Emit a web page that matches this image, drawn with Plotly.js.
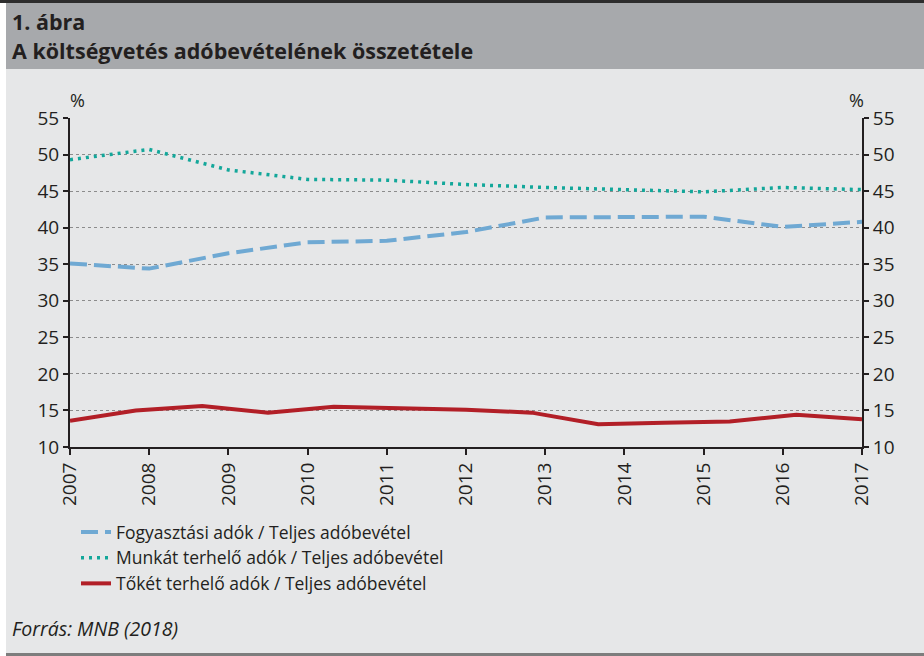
<!DOCTYPE html>
<html>
<head>
<meta charset="utf-8">
<script src="https://cdn.plot.ly/plotly-3.0.1.min.js"></script>
<style>
html,body{margin:0;padding:0;background:#e6e7e8;}
#chart{width:924px;height:656px;}
</style>
</head>
<body>
<div id="chart"></div>
<script>
// ---- data ----
const years = [2007, 2008, 2009, 2010, 2011, 2012, 2013, 2014, 2015, 2016, 2017];
const yearLabels = ['2007','2008','2009','2010','2011','2012','2013','2014','2015','2016','2017'];
const consumptionTax = [35.1, 34.4, 36.5, 38.0, 38.2, 39.4, 41.4, 41.4, 41.5, 40.1, 40.8];
const labourTax = [49.3, 50.7, 47.9, 46.6, 46.5, 45.9, 45.5, 45.2, 44.9, 45.5, 45.2];
const capitalX = [2007, 2007.83, 2008.67, 2009.5, 2010.33, 2011.17, 2012, 2012.83, 2013.67, 2014.5, 2015.33, 2016.17, 2017];
const capitalTax = [13.6, 15.0, 15.6, 14.7, 15.5, 15.3, 15.1, 14.7, 13.1, 13.3, 13.5, 14.4, 13.8];
const seriesNames = [
  'Fogyasztási adók / Teljes adóbevétel',
  'Munkát terhelő adók / Teljes adóbevétel',
  'Tőkét terhelő adók / Teljes adóbevétel'
];

// ---- layout helpers (pixel -> paper) ----
const L = 70, R = 862, T = 118, B = 447;
const px = x => (x - L) / (R - L);
const py = y => (B - y) / (B - T);

const axisColor = '#231f20';
const FONT = 'Open Sans, Noto Sans, sans-serif';
const tickFont = {family: FONT, size: 19, color: axisColor};

const traces = [
  {x: years, y: consumptionTax, name: seriesNames[0], type: 'scatter', mode: 'lines',
   line: {color: '#6fa9d3', width: 4, dash: '17px,7px'}},
  {x: years, y: labourTax, name: seriesNames[1], type: 'scatter', mode: 'lines',
   line: {color: '#13a79a', width: 3.5, dash: '3px,5px'}},
  {x: capitalX, y: capitalTax, name: seriesNames[2], type: 'scatter', mode: 'lines',
   line: {color: '#b21f27', width: 4}},
  {x: [years[0], years[years.length-1]], y: [null, null], yaxis: 'y2', showlegend: false,
   hoverinfo: 'skip', type: 'scatter', mode: 'lines'}
];

const layout = {
  width: 924, height: 656,
  margin: {l: L, r: 924 - R, t: T, b: 656 - B, pad: 0},
  paper_bgcolor: '#e6e7e8',
  plot_bgcolor: '#e6e7e8',
  font: {family: FONT, color: axisColor},
  xaxis: {
    type: 'linear', range: [2007, 2017], tickvals: years, ticktext: yearLabels,
    tickangle: -90, ticks: 'outside', ticklen: 6, tickwidth: 2, tickcolor: axisColor,
    showline: true, linewidth: 2, linecolor: axisColor, showgrid: false, zeroline: false,
    tickfont: tickFont, fixedrange: true
  },
  yaxis: {
    range: [10, 55], dtick: 5, tick0: 10, ticks: 'outside', ticklen: 5, tickwidth: 2,
    tickcolor: axisColor, showline: true, linewidth: 2, linecolor: axisColor,
    showgrid: true, gridcolor: '#8c8c8c', gridwidth: 1, griddash: 'dot',
    zeroline: false, tickfont: tickFont, fixedrange: true
  },
  yaxis2: {
    overlaying: 'y', side: 'right', range: [10, 55], dtick: 5, tick0: 10,
    ticks: 'outside', ticklen: 5, tickwidth: 2, tickcolor: axisColor,
    showline: true, linewidth: 2, linecolor: axisColor, showgrid: false,
    zeroline: false, tickfont: tickFont, fixedrange: true
  },
  showlegend: true,
  legend: {
    x: px(76), y: py(514), xanchor: 'left', yanchor: 'top',
    bgcolor: 'rgba(0,0,0,0)', borderwidth: 0, tracegroupgap: 0,
    font: {family: FONT, size: 17.5, color: axisColor}
  },
  shapes: [
    {type: 'rect', xref: 'paper', yref: 'paper', x0: px(0), x1: px(6), y0: py(656), y1: py(0),
     fillcolor: '#ffffff', line: {width: 0}, layer: 'below'},
    {type: 'rect', xref: 'paper', yref: 'paper', x0: px(0), x1: px(924), y0: py(3), y1: py(0),
     fillcolor: '#2d2d2d', line: {width: 0}, layer: 'below'},
    {type: 'rect', xref: 'paper', yref: 'paper', x0: px(6), x1: px(924), y0: py(69), y1: py(3),
     fillcolor: '#a7a9ac', line: {width: 0}, layer: 'below'},
    {type: 'rect', xref: 'paper', yref: 'paper', x0: px(6), x1: px(924), y0: py(656), y1: py(653),
     fillcolor: '#7d7d7d', line: {width: 0}, layer: 'below'}
  ],
  annotations: [
    {xref: 'paper', yref: 'paper', x: px(10), y: py(21), xanchor: 'left', yanchor: 'middle',
     text: '<b>1. ábra</b>', showarrow: false,
     font: {family: FONT, size: 21.5, color: '#231f20'}},
    {xref: 'paper', yref: 'paper', x: px(10), y: py(50), xanchor: 'left', yanchor: 'middle',
     text: '<b>A költségvetés adóbevételének összetétele</b>', showarrow: false,
     font: {family: FONT, size: 21.5, color: '#231f20'}},
    {xref: 'paper', yref: 'paper', x: px(77), y: py(100), xanchor: 'center', yanchor: 'middle',
     text: '%', showarrow: false, font: {family: FONT, size: 18, color: axisColor}},
    {xref: 'paper', yref: 'paper', x: px(856), y: py(100), xanchor: 'center', yanchor: 'middle',
     text: '%', showarrow: false, font: {family: FONT, size: 18, color: axisColor}},
    {xref: 'paper', yref: 'paper', x: px(10), y: py(628), xanchor: 'left', yanchor: 'middle',
     text: '<i>Forrás: MNB (2018)</i>', showarrow: false,
     font: {family: FONT, size: 19.5, color: axisColor}}
  ]
};

Plotly.newPlot('chart', traces, layout, {displayModeBar: false, staticPlot: true});
</script>
</body>
</html>
